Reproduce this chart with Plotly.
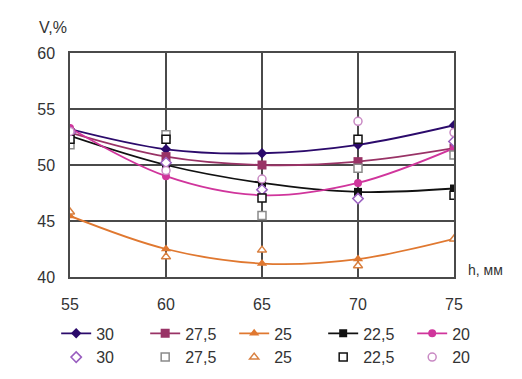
import plotly.graph_objects as go

h = [55, 60, 65, 70, 75]
series_names = ["30", "27,5", "25", "22,5", "20"]

# fitted (line) values
fit_30 = [53.2, 51.4, 51.05, 51.8, 53.55]
fit_275 = [52.9, 50.75, 50.0, 50.3, 51.5]
fit_25 = [45.45, 42.5, 41.2, 41.6, 43.4]
fit_225 = [52.6, 50.0, 48.4, 47.6, 47.9]
fit_20 = [53.3, 49.0, 47.3, 48.4, 51.5]

# measured (hollow) values
meas_30 = [52.9, 50.2, 47.8, 47.0, 52.1]
meas_275 = [51.8, 52.7, 45.5, 49.7, 50.9]
meas_25 = [45.8, 41.8, 42.4, 41.0, 43.4]
meas_225 = [52.3, 52.3, 47.05, 52.3, 47.3]
meas_20 = [53.0, 49.5, 48.75, 53.9, 52.9]

y_ticks = [40, 45, 50, 55, 60]
x_ticks = [55, 60, 65, 70, 75]

fits = [fit_30, fit_275, fit_25, fit_225, fit_20]
meas = [meas_30, meas_275, meas_25, meas_225, meas_20]
line_colors = ["#2b0a6b", "#993366", "#e07830", "#111111", "#d0359c"]
fill_symbols = ["diamond", "square", "triangle-up", "square", "circle"]
fill_sizes = [8, 9, 9, 8, 8]
hollow_colors = ["#9a5fc0", "#8a8a8a", "#d98040", "#111111", "#c98ac4"]
hollow_symbols = ["diamond", "square", "triangle-up", "square", "circle"]

fig = go.Figure()
for name, ys, c, s, sz in zip(series_names, fits, line_colors, fill_symbols, fill_sizes):
    fig.add_trace(go.Scatter(
        x=h, y=ys, mode="lines+markers", name=name,
        line=dict(color=c, width=1.8, shape="spline", smoothing=1),
        marker=dict(symbol=s, size=sz, color=c),
    ))
for name, ys, c, s in zip(series_names, meas, hollow_colors, hollow_symbols):
    fig.add_trace(go.Scatter(
        x=h, y=ys, mode="markers", name=name,
        marker=dict(symbol=s, size=8, color="white", line=dict(color=c, width=1.5)),
    ))

axis_common = dict(
    showgrid=True, gridcolor="#4a4a4a", gridwidth=1.5,
    showline=True, linecolor="#4a4a4a", linewidth=1.5, mirror=True,
    zeroline=False, ticks="",
    tickfont=dict(family="Liberation Sans, Arial, sans-serif", size=16, color="#333333"),
)

fig.update_layout(
    width=522, height=379,
    margin=dict(l=62, r=76, t=45, b=110, autoexpand=False),
    paper_bgcolor="white", plot_bgcolor="white",
    font=dict(family="Liberation Sans, Arial, sans-serif", size=16, color="#333333"),
    xaxis=dict(range=[55, 75], tickvals=x_ticks, ticklabelstandoff=12, **axis_common),
    yaxis=dict(range=[40, 60], tickvals=y_ticks, ticklabelstandoff=10, **axis_common),
    showlegend=True,
    legend=dict(
        orientation="h", x=-0.036, y=-0.176, xanchor="left", yanchor="top",
        traceorder="normal", entrywidth=44, entrywidthmode="pixels",
        bgcolor="rgba(0,0,0,0)",
        font=dict(size=16, color="#333333"), itemsizing="trace",
        tracegroupgap=0,
    ),
    annotations=[
        dict(text="V,%", xref="paper", yref="paper", x=-0.086, y=1.116,
             xanchor="left", yanchor="middle", showarrow=False,
             font=dict(size=16, color="#333333")),
        dict(text="h, мм", xref="paper", yref="paper", x=1.03, y=0.03,
             xanchor="left", yanchor="middle", showarrow=False,
             font=dict(size=14, color="#333333")),
    ],
)

fig.write_html("out.html")
